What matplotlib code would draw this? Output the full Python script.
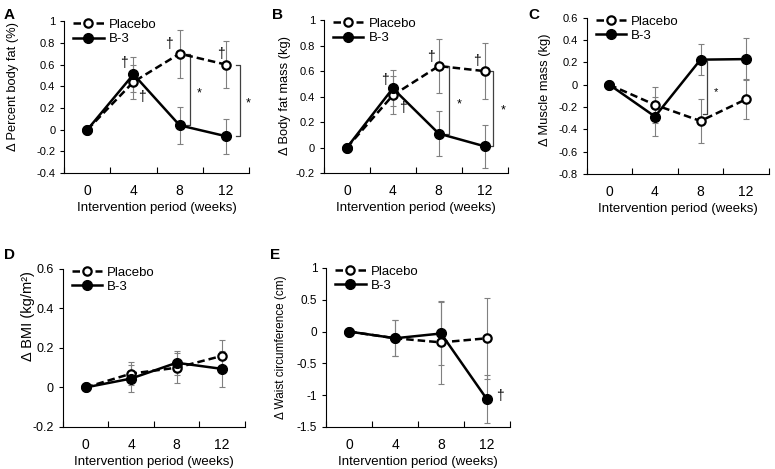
import numpy as np
import matplotlib
matplotlib.use('Agg')
import matplotlib.pyplot as plt
from matplotlib.ticker import FormatStrFormatter, FixedLocator

plt.rcParams['font.family'] = ['Liberation Sans', 'DejaVu Sans']

## Data ##
weeks = ['0', '4', '8', '12']

a_placebo = [0, 0.44, 0.70, 0.60]
a_placebo_err = [0, 0.16, 0.22, 0.22]
a_b3 = [0, 0.51, 0.04, -0.06]
a_b3_err = [0, 0.16, 0.17, 0.16]

b_placebo = [0, 0.41, 0.64, 0.60]
b_placebo_err = [0, 0.15, 0.21, 0.22]
b_b3 = [0, 0.465, 0.11, 0.01]
b_b3_err = [0, 0.14, 0.18, 0.17]

c_placebo = [0, -0.18, -0.325, -0.13]
c_placebo_err = [0, 0.16, 0.195, 0.18]
c_b3 = [0, -0.285, 0.225, 0.23]
c_b3_err = [0, 0.175, 0.14, 0.19]

d_placebo = [0, 0.07, 0.10, 0.16]
d_placebo_err = [0, 0.057, 0.075, 0.08]
d_b3 = [0, 0.045, 0.125, 0.094]
d_b3_err = [0, 0.07, 0.06, 0.09]

e_placebo = [0, -0.105, -0.17, -0.105]
e_placebo_err = [0, 0.28, 0.65, 0.64]
e_b3 = [0, -0.105, -0.03, -1.065]
e_b3_err = [0, 0.28, 0.5, 0.38]

x = np.arange(len(weeks))


def panel(rect, placebo, placebo_err, b3, b3_err, ylim, ystep, ylabel, ylab_pos,
          ylab_fs=9.3, ytick_fs=8):
    ax = fig.add_axes(rect)
    ax.errorbar(x, placebo, yerr=placebo_err, fmt='none', ecolor='#808080',
                elinewidth=0.8, capsize=2.3, capthick=0.8, zorder=1)
    ax.errorbar(x, b3, yerr=b3_err, fmt='none', ecolor='#808080',
                elinewidth=0.8, capsize=2.3, capthick=0.8, zorder=1)
    ax.plot(x, placebo, '--', color='black', lw=1.8, dashes=(3, 1.6),
            marker='o', ms=6, mfc='white', mec='black', mew=1.6,
            label='Placebo', zorder=3)
    ax.plot(x, b3, '-', color='black', lw=1.8, marker='o', ms=7,
            mfc='black', mec='black', label='B-3', zorder=4)
    ax.set_xlim(-0.5, 3.5)
    ax.set_ylim(*ylim)
    yt = np.round(np.arange(ylim[0], ylim[1] + ystep / 2, ystep), 6) + 0.0
    ax.set_yticks(yt)
    ax.set_yticklabels(['%g' % abs(v) if abs(v) < 1e-9 else '%g' % v for v in yt])
    ax.set_xticks(x)
    ax.set_xticklabels(weeks)
    ax.xaxis.set_minor_locator(FixedLocator(np.arange(-0.5, 3.6, 1)))
    ax.tick_params(axis='x', which='major', length=0, pad=8, labelsize=10)
    ax.tick_params(axis='x', which='minor', direction='in', length=4, width=0.8)
    ax.tick_params(axis='y', direction='out', length=3, width=0.8, labelsize=ytick_fs)
    for s in ['top', 'right']:
        ax.spines[s].set_visible(False)
    for s in ['left', 'bottom']:
        ax.spines[s].set_linewidth(0.8)
    ax.set_xlabel('Intervention period (weeks)', fontsize=9.5, labelpad=3)
    ax.set_ylabel(ylabel, fontsize=ylab_fs, va='center')
    ax.yaxis.set_label_coords(*ylab_pos)
    ax.legend(loc='upper left', bbox_to_anchor=(0.02, 1.05), frameon=False,
              fontsize=9.5, handlelength=2.3, labelspacing=0.15,
              handletextpad=0.4, borderaxespad=0)
    return ax


def bracket(ax, xi, y1, y2, off, star_dx, star_y, fs=9):
    xb = xi + off
    ax.plot([xb - 0.09, xb, xb, xb - 0.09], [y1, y1, y2, y2],
            color='#404040', lw=0.9, zorder=2)
    ax.text(xi + star_dx, star_y, '*', ha='center', va='center', fontsize=fs)


def dagger(ax, xx, yy):
    ax.text(xx, yy, '†', ha='center', va='center', fontsize=10)


fig = plt.figure(figsize=(7.75, 4.69), dpi=100)

## A ##
ax = panel([0.083, 0.631, 0.238, 0.324], a_placebo, a_placebo_err, a_b3, a_b3_err,
           (-0.4, 1.0), 0.2, 'Δ Percent body fat (%)', (-0.279, 0.57))
bracket(ax, 2, a_placebo[2], a_b3[2], 0.22, 0.43, 0.33)
bracket(ax, 3, a_placebo[3], a_b3[3], 0.31, 0.48, 0.24)
dagger(ax, 0.80, 0.61)
dagger(ax, 1.19, 0.30)
dagger(ax, 1.77, 0.79)
dagger(ax, 2.89, 0.70)

## B ##
ax = panel([0.418, 0.631, 0.237, 0.326], b_placebo, b_placebo_err, b_b3, b_b3_err,
           (-0.2, 1.0), 0.2, 'Δ Body fat mass (kg)', (-0.21, 0.51))
bracket(ax, 2, b_placebo[2], b_b3[2], 0.22, 0.45, 0.34)
bracket(ax, 3, b_placebo[3], b_b3[3], 0.19, 0.40, 0.29)
dagger(ax, 0.83, 0.53)
dagger(ax, 1.22, 0.31)
dagger(ax, 1.83, 0.71)
dagger(ax, 2.82, 0.68)

## C ##
ax = panel([0.757, 0.629, 0.235, 0.333], c_placebo, c_placebo_err, c_b3, c_b3_err,
           (-0.8, 0.6), 0.2, 'Δ Muscle mass (kg)', (-0.23, 0.54))
bracket(ax, 2, c_b3[2] - 0.01, c_placebo[2] + 0.06, 0.14, 0.35, -0.07, fs=8)

## D ##
ax = panel([0.081, 0.0896, 0.235, 0.337], d_placebo, d_placebo_err, d_b3, d_b3_err,
           (-0.2, 0.6), 0.2, 'Δ BMI (kg/m²)', (-0.19, 0.70), ylab_fs=10.5, ytick_fs=9)

## E ##
ax = panel([0.421, 0.0896, 0.237, 0.339], e_placebo, e_placebo_err, e_b3, e_b3_err,
           (-1.5, 1.0), 0.5, 'Δ Waist circumference (cm)', (-0.245, 0.5), ylab_fs=8.5,
           ytick_fs=8.5)
dagger(ax, 3.28, -1.01)

## Panel letters ##
for lx, ly, lab in [(4, 8, 'A'), (272, 8, 'B'), (528, 8, 'C'), (4, 248, 'D'), (270, 248, 'E')]:
    fig.text(lx / 775, 1 - ly / 469, lab, fontsize=11, fontweight='bold',
             ha='left', va='top')

plt.savefig('out.png', dpi=100)
